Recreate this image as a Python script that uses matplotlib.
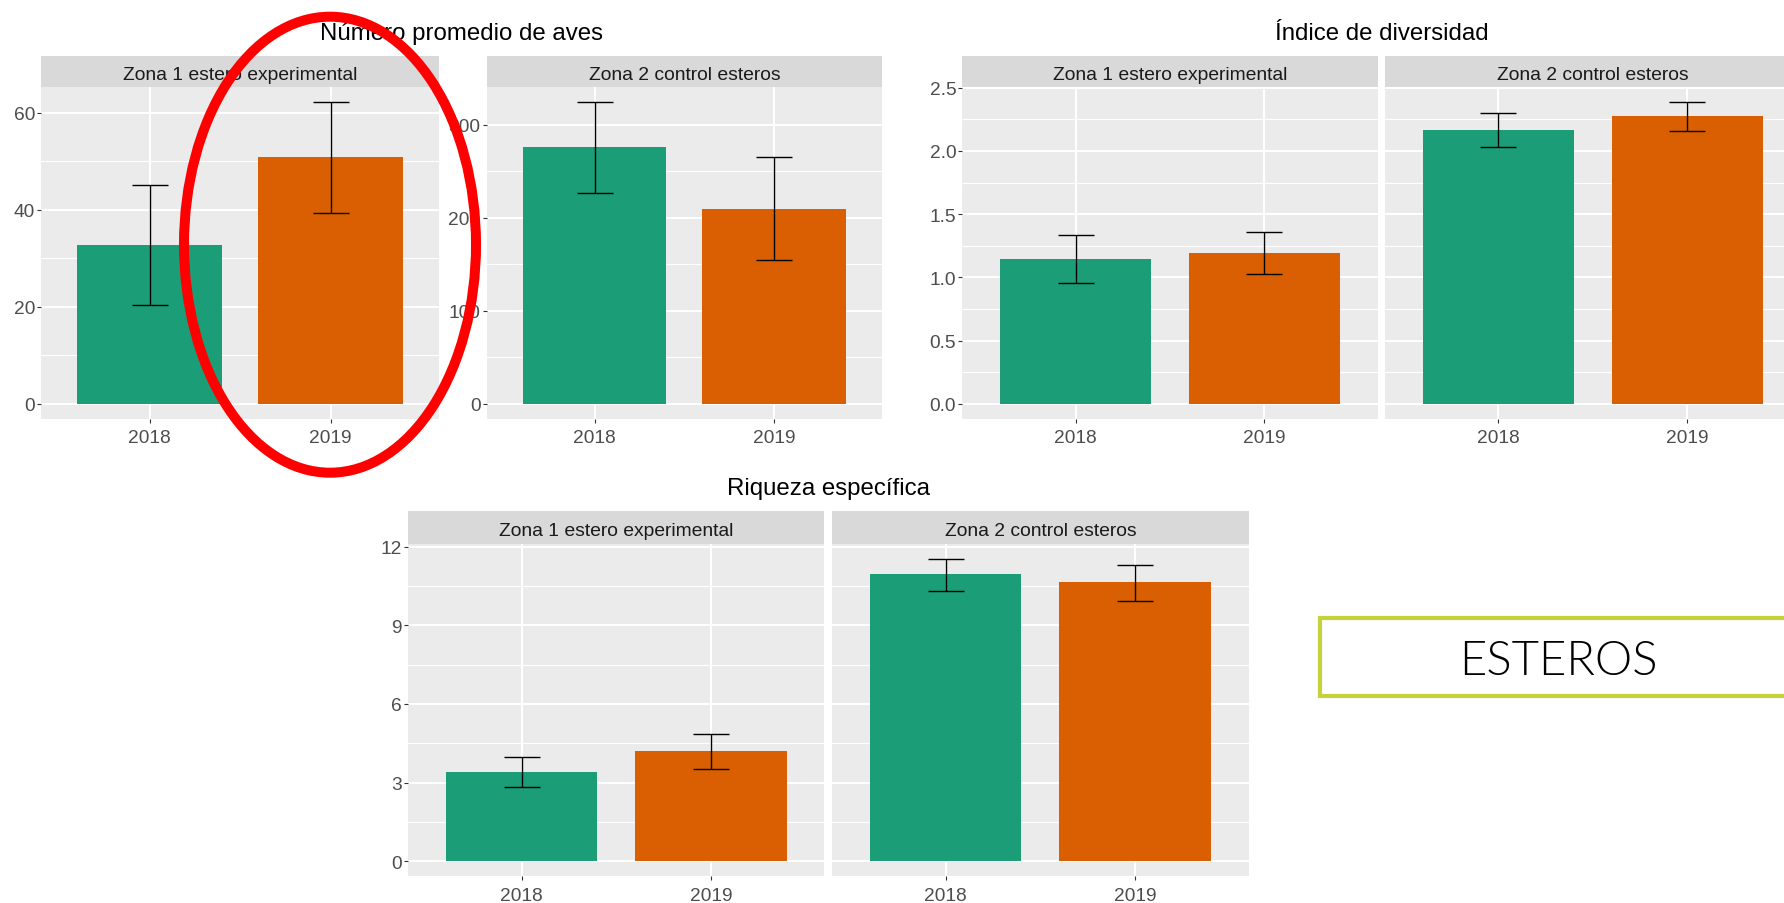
import matplotlib
matplotlib.use("Agg")
import matplotlib.pyplot as plt
from matplotlib.patches import Ellipse, Rectangle
import numpy as np

# ---------------- data ----------------
years = ["2018", "2019"]
zones = ["Zona 1 estero experimental", "Zona 2 control esteros"]
bar_colors = ["#1B9E77", "#D95F02"]

aves_z1_mean = [32.8, 50.9]
aves_z1_low = [20.3, 39.4]
aves_z1_high = [45.2, 62.3]
aves_z2_mean = [276.1, 208.9]
aves_z2_low = [226.0, 154.0]
aves_z2_high = [324.4, 265.0]

div_z1_mean = [1.145, 1.193]
div_z1_low = [0.953, 1.024]
div_z1_high = [1.335, 1.359]
div_z2_mean = [2.167, 2.278]
div_z2_low = [2.030, 2.159]
div_z2_high = [2.302, 2.389]

riq_z1_mean = [3.39, 4.20]
riq_z1_low = [2.83, 3.53]
riq_z1_high = [3.96, 4.85]
riq_z2_mean = [10.94, 10.64]
riq_z2_low = [10.31, 9.92]
riq_z2_high = [11.54, 11.28]

titles = ["Número promedio de aves", "Índice de diversidad", "Riqueza específica"]
label_box = "ESTEROS"

aves_ticks = [[0, 20, 40, 60], [0, 100, 200, 300]]
div_ticks = [0.0, 0.5, 1.0, 1.5, 2.0, 2.5]
riq_ticks = [0, 3, 6, 9, 12]

# ---------------- style ----------------
W, H = 1784, 904
fig = plt.figure(figsize=(W / 100, H / 100), dpi=100)
plt.rcParams["font.family"] = ["Liberation Sans", "DejaVu Sans"]

PANEL_BG = "#EBEBEB"
STRIP_BG = "#D9D9D9"
TICK_COL = "#4D4D4D"
STRIP_COL = "#1A1A1A"


def fig_axes(x0, y0, x1, y1):
    return fig.add_axes([x0 / W, 1 - y1 / H, (x1 - x0) / W, (y1 - y0) / H])


def ggrange(values_high):
    top = max(values_high)
    return (-0.05 * top, 1.05 * top)


def panel(x0, x1, strip_top, panel_top, panel_bot, zone, means, lows, highs,
          ylim, ticks, show_y, fmt):
    ax = fig_axes(x0, panel_top, x1, panel_bot)
    ax.set_facecolor(PANEL_BG)
    xpos = np.arange(1, len(years) + 1)
    ax.set_xlim(0.4, len(years) + 0.6)
    ax.set_ylim(*ylim)
    # grid
    step = ticks[1] - ticks[0]
    minors = [t + step / 2 for t in ticks]
    for m in minors:
        ax.axhline(m, color="white", lw=0.8, zorder=0.5)
    for t in ticks:
        ax.axhline(t, color="white", lw=1.5, zorder=0.6)
    for xp in xpos:
        ax.axvline(xp, color="white", lw=1.5, zorder=0.6)
    ax.bar(xpos, means, width=0.8, color=bar_colors, zorder=2)
    lo = np.array(means) - np.array(lows)
    hi = np.array(highs) - np.array(means)
    ax.errorbar(xpos, means, yerr=[lo, hi], fmt="none", ecolor="black",
                elinewidth=1.0, capsize=13, capthick=1.0, zorder=3)
    for s in ax.spines.values():
        s.set_visible(False)
    ax.set_xticks(xpos)
    ax.set_xticklabels(years)
    ax.set_yticks(ticks)
    ax.set_yticklabels([fmt(t) for t in ticks])
    ax.tick_params(axis="both", colors="#333333", labelcolor=TICK_COL,
                   labelsize=13.8, length=3, width=0.8)
    ax.tick_params(axis="x", pad=4.5)
    ax.tick_params(axis="y", pad=1.5)
    if not show_y:
        ax.tick_params(axis="y", left=False, labelleft=False)
    # strip
    sa = fig_axes(x0, strip_top, x1, panel_top)
    sa.set_facecolor(STRIP_BG)
    sa.set_xticks([])
    sa.set_yticks([])
    for s in sa.spines.values():
        s.set_visible(False)
    sa.text(0.5, 0.25, zone, ha="center", va="baseline", fontsize=13.9,
            color=STRIP_COL, transform=sa.transAxes)
    return ax


fmt_int = lambda v: f"{v:g}"
fmt_1 = lambda v: f"{v:.1f}"

# top-left: Número promedio de aves (free y scales)
panel(41.3, 439.0, 56.7, 87.7, 420.0, zones[0], aves_z1_mean, aves_z1_low,
      aves_z1_high, ggrange(aves_z1_high), aves_ticks[0], True, fmt_int)
panel(486.7, 882.0, 56.7, 87.7, 420.0, zones[1], aves_z2_mean, aves_z2_low,
      aves_z2_high, ggrange(aves_z2_high), aves_ticks[1], True, fmt_int)
fig.text(461.6 / W, 1 - 40 / H, titles[0], ha="center", va="baseline",
         fontsize=17.3, color="black")

# top-right: Índice de diversidad (shared y)
div_lim = ggrange(div_z1_high + div_z2_high)
panel(962.4, 1377.5, 56.7, 87.7, 420.0, zones[0], div_z1_mean, div_z1_low,
      div_z1_high, div_lim, div_ticks, True, fmt_1)
panel(1385.0, 1800.5, 56.7, 87.7, 420.0, zones[1], div_z2_mean, div_z2_low,
      div_z2_high, div_lim, div_ticks, False, fmt_1)
fig.text(1381.5 / W, 1 - 40 / H, titles[1], ha="center", va="baseline",
         fontsize=17.3, color="black")

# bottom: Riqueza específica (shared y)
riq_lim = ggrange(riq_z1_high + riq_z2_high)
panel(408.0, 824.4, 512.3, 544.5, 877.3, zones[0], riq_z1_mean, riq_z1_low,
      riq_z1_high, riq_lim, riq_ticks, True, fmt_int)
panel(831.8, 1249.0, 512.3, 544.5, 877.3, zones[1], riq_z2_mean, riq_z2_low,
      riq_z2_high, riq_lim, riq_ticks, False, fmt_int)
fig.text(828.5 / W, 1 - 495 / H, titles[2], ha="center", va="baseline",
         fontsize=17.3, color="black")

# ESTEROS box
fig.patches.append(Rectangle((1320 / W, 1 - 697 / H), 500 / W, 78 / H,
                             transform=fig.transFigure, facecolor="white",
                             edgecolor="#C4D23B", lw=3.0, zorder=5))
fig.text(1558 / W, 1 - 675 / H, label_box, ha="center", va="baseline",
         fontsize=34, family=["Lato", "DejaVu Sans"], fontweight=300,
         color="black", zorder=6)

# red ellipse annotation
fig.patches.append(Ellipse((330 / W, 1 - 245.7 / H), 292 / W, 456 / H,
                           transform=fig.transFigure, facecolor="none",
                           edgecolor="#FF0000", lw=7.2, zorder=10))

fig.savefig("out.png", dpi=100)
